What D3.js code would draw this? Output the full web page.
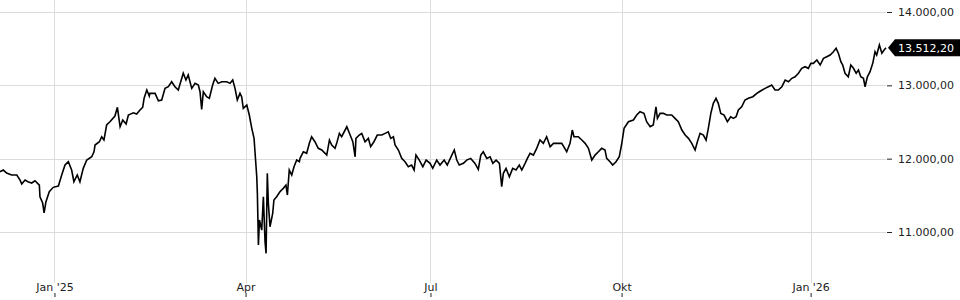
<!DOCTYPE html>
<html>
<head>
<meta charset="utf-8">
<script src="https://cdn.jsdelivr.net/npm/d3@7"></script>
<style>
  body { margin: 0; background: #fff; }
  svg { display: block; }
  svg text { font-family: "DejaVu Sans", sans-serif; font-size: 11px; }
</style>
</head>
<body>
<div class="svg-container"></div>
<script>
/*** Data ***/

// chart time in days since 1 Dec 2024 (compressed trading axis)
let days = [
    4.7, 6.3, 7.9, 10.3, 12.8, 14.4, 15.2, 16.8, 18.2, 20.0,
    21.6, 23.7, 24.0, 25.3, 26.0, 26.9, 28.5, 30.4, 32.9, 34.5,
    36.1, 37.7, 39.3, 40.4, 42.0, 43.3, 44.9, 46.6, 49.0, 50.1,
    50.6, 52.7, 53.8, 54.9, 56.2, 57.8, 60.2, 61.4, 61.8, 62.7,
    64.0, 65.6, 66.7, 69.1, 70.7, 72.3, 73.6, 74.3, 75.6, 76.8,
    77.1, 79.6, 81.2, 82.8, 84.4, 86.0, 87.6, 89.2, 90.8, 93.2,
    94.5, 95.6, 97.3, 98.9, 100.5, 101.3, 102.1, 102.9, 104.5, 105.8,
    107.4, 108.5, 110.1, 111.8, 114.2, 115.8, 117.1, 118.2, 119.3, 120.6,
    121.4, 122.2, 123.9, 125.1, 126.3, 127.4, 127.9, 128.7, 129.0, 129.5,
    130.0, 131.1, 131.9, 132.7, 133.2, 133.8, 134.3, 135.1, 136.4, 137.0,
    138.3, 139.9, 141.5, 142.8, 143.5, 144.4, 145.6, 146.7, 148.0, 149.3,
    149.6, 151.2, 152.8, 154.1, 155.2, 156.8, 158.4, 160.1, 161.7, 162.5,
    163.8, 164.9, 166.5, 167.3, 168.6, 169.7, 172.2, 173.8, 175.1, 176.2,
    176.6, 178.2, 179.4, 181.0, 182.6, 183.7, 185.3, 186.9, 189.1, 190.7,
    192.2, 193.4, 194.7, 195.5, 197.1, 198.7, 200.3, 201.9, 203.5, 204.7,
    205.6, 207.2, 208.9, 210.5, 212.4, 213.7, 215.6, 217.2, 219.2, 220.7,
    222.9, 224.1, 225.3, 226.5, 228.5, 230.1, 232.0, 234.1, 235.7, 236.9,
    238.1, 239.8, 241.4, 242.7, 244.3, 245.9, 247.0, 247.8, 249.1, 250.7,
    252.3, 253.9, 255.5, 256.7, 258.3, 259.4, 260.7, 262.3, 263.9, 265.5,
    267.1, 268.7, 270.4, 272.0, 273.6, 276.0, 278.4, 280.0, 281.1, 281.9,
    284.0, 285.7, 287.3, 288.9, 290.5, 292.1, 293.7, 295.3, 296.9, 297.7,
    299.3, 300.6, 302.2, 303.8, 305.0, 306.1, 308.2, 310.6, 312.2, 313.8,
    315.7, 317.0, 318.7, 320.2, 321.5, 322.2, 323.5, 325.1, 326.7, 329.1,
    330.7, 332.3, 334.0, 335.6, 337.2, 338.8, 340.4, 341.5, 342.8, 344.4,
    345.7, 346.8, 348.0, 349.2, 350.5, 351.6, 352.8, 354.4, 356.0, 357.6,
    358.9, 360.2, 361.3, 362.9, 364.5, 366.1, 368.3, 370.2, 371.4, 374.2,
    375.8, 377.4, 379.0, 380.6, 382.3, 383.9, 385.5, 387.1, 388.7, 390.3,
    391.9, 393.5, 395.1, 396.3, 397.5, 399.2, 400.8, 402.4, 404.0, 405.6,
    407.2, 408.5, 409.6, 410.8, 411.7, 412.8, 414.4, 415.6, 416.9, 418.2,
    419.3, 420.4, 421.7, 422.5, 423.6, 424.9, 426.2, 427.3, 428.1, 429.4,
    430.6, 431.7, 432.6
]

let closes = [
    11822, 11845, 11804, 11777, 11777, 11708, 11654, 11708, 11685, 11668,
    11699, 11640, 11481, 11395, 11262, 11413, 11549, 11609, 11627, 11777,
    11913, 11958, 11845, 11685, 11777, 11685, 11868, 11981, 12026, 12094,
    12186, 12231, 12299, 12254, 12459, 12504, 12581, 12700, 12618, 12435,
    12527, 12472, 12595, 12626, 12609, 12663, 12700, 12823, 12936, 12854,
    12891, 12891, 12790, 12800, 12959, 12981, 13049, 12981, 12936, 13164,
    13072, 13141, 12959, 13027, 13004, 12913, 12673, 12913, 12845, 12823,
    13004, 13096, 13027, 13049, 13049, 13027, 13072, 12959, 12800, 12891,
    12845, 12686, 12731, 12595, 12414, 12277, 12073, 11754, 11527, 10822,
    11163, 11026, 11481, 10867, 10709, 11800, 11391, 11072, 11254, 11436,
    11481, 11549, 11595, 11640, 11504, 11845, 11777, 11890, 11981, 11958,
    12004, 12094, 12073, 12209, 12299, 12231, 12141, 12118, 12073, 12049,
    12254, 12186, 12141, 12209, 12345, 12299, 12435, 12322, 12231, 12026,
    12277, 12322, 12345, 12231, 12277, 12163, 12231, 12322, 12322, 12345,
    12367, 12277, 12299, 12186, 12118, 12004, 11958, 11890, 11913, 11845,
    12049, 11981, 11890, 11981, 11936, 11868, 11981, 11913, 11981, 11913,
    12049, 12118, 11981, 11913, 11936, 11981, 12004, 11936, 11854, 12049,
    12094, 12004, 12026, 11936, 11981, 11936, 11617, 11800, 11868, 11754,
    11868, 11845, 11913, 11845, 11936, 12004, 12073, 12049, 12141, 12254,
    12209, 12299, 12163, 12209, 12209, 12209, 12094, 12209, 12390, 12299,
    12299, 12254, 12209, 12141, 11981, 12049, 12094, 12141, 12118, 12004,
    11958, 11913, 11958, 12026, 12209, 12414, 12504, 12527, 12595, 12640,
    12618, 12504, 12435, 12459, 12708, 12550, 12618, 12618, 12595, 12595,
    12550, 12504, 12390, 12322, 12277, 12209, 12118, 12231, 12345, 12322,
    12254, 12414, 12618, 12755, 12823, 12755, 12618, 12595, 12504, 12572,
    12550, 12572, 12663, 12708, 12800, 12823, 12845, 12891, 12913, 12959,
    12981, 13004, 12936, 12936, 12981, 13072, 13049, 13096, 13117, 13164,
    13232, 13254, 13232, 13300, 13300, 13345, 13277, 13368, 13390, 13413,
    13458, 13505, 13437, 13322, 13277, 13164, 13117, 13277, 13232, 13164,
    13209, 13117, 13096, 12981, 13117, 13186, 13300, 13458, 13413, 13550,
    13437, 13482, 13512.20
]

let lastPrice = 13512.20

let yTicks = [11000, 12000, 13000, 14000]

// first session of each month on the chart time axis
let monthTicks = [31.0, 123.3, 212.6, 304.9, 396.2]
let monthLabels = ["Jan '25", "Apr", "Jul", "Okt", "Jan '26"]

const svgWidth = 960
const svgHeight = 300
const plotRight = 886

const de = d3.formatLocale({decimal: ",", thousands: ".", grouping: [3], currency: ["", " €"]})
const fmt = de.format(",.2f")

let svg = d3.select(".svg-container")
    .append("svg")
    .attr("width", svgWidth)
    .attr("height", svgHeight)

/* Scales */

let xScale = d3.scaleLinear()
    .domain([days[0], days[days.length - 1]])
    .range([0, plotRight])

let yScale = d3.scaleLinear()
    .domain([11000, 14000])
    .range([232, 12])

/* Grid */

svg.append("g")
    .selectAll("line")
    .data(yTicks)
    .enter()
    .append("line")
    .attr("x1", 0)
    .attr("x2", plotRight)
    .attr("y1", d => Math.round(yScale(d)) + 0.5)
    .attr("y2", d => Math.round(yScale(d)) + 0.5)
    .attr("stroke", "#dcdcdc")

svg.append("g")
    .selectAll("line")
    .data(monthTicks)
    .enter()
    .append("line")
    .attr("x1", d => Math.round(xScale(d)) + 0.5)
    .attr("x2", d => Math.round(xScale(d)) + 0.5)
    .attr("y1", 0)
    .attr("y2", 283)
    .attr("stroke", "#dcdcdc")

/* Price line */

let points = days.map((d, i) => [d, closes[i]])

let line = d3.line()
    .x(d => xScale(d[0]))
    .y(d => yScale(d[1]))

svg.append("path")
    .datum(points)
    .attr("d", line)
    .attr("fill", "none")
    .attr("stroke", "#000")
    .attr("stroke-width", 1.6)

/* Axes */

let rightAxis = d3.axisRight(yScale)
    .tickValues(yTicks)
    .tickSize(5)
    .tickPadding(6)
    .tickFormat(fmt)

let yAxis = svg.append("g")
    .attr("transform", `translate(${plotRight + 1}, 0)`)
    .call(rightAxis)
    .attr("font-family", null)
    .attr("font-size", null)

yAxis.select(".domain").remove()
yAxis.selectAll("line").attr("stroke", "#222")
yAxis.selectAll("text").attr("fill", "#222")

let bottomAxis = d3.axisBottom(xScale)
    .tickValues(monthTicks)
    .tickSize(4)
    .tickFormat((d, i) => monthLabels[i])

let xAxis = svg.append("g")
    .attr("transform", "translate(0, 293)")
    .call(bottomAxis)
    .attr("font-family", null)
    .attr("font-size", null)

xAxis.select(".domain").remove()
xAxis.selectAll("line").attr("stroke", "#222")
xAxis.selectAll("text")
    .attr("y", -2)
    .attr("dy", 0)
    .attr("fill", "#222")

/* Last price tag */

let tagY = yScale(lastPrice)
let tip = plotRight + 2

svg.append("polygon")
    .attr("points", [
        [tip, tagY], [tip + 7, tagY - 8.5], [svgWidth, tagY - 8.5],
        [svgWidth, tagY + 8.5], [tip + 7, tagY + 8.5]
    ].map(p => p.join(",")).join(" "))
    .attr("fill", "#000")

svg.append("text")
    .attr("x", tip + 10)
    .attr("y", tagY)
    .attr("dy", "0.36em")
    .attr("fill", "#fff")
    .text(fmt(lastPrice))
</script>
</body>
</html>
